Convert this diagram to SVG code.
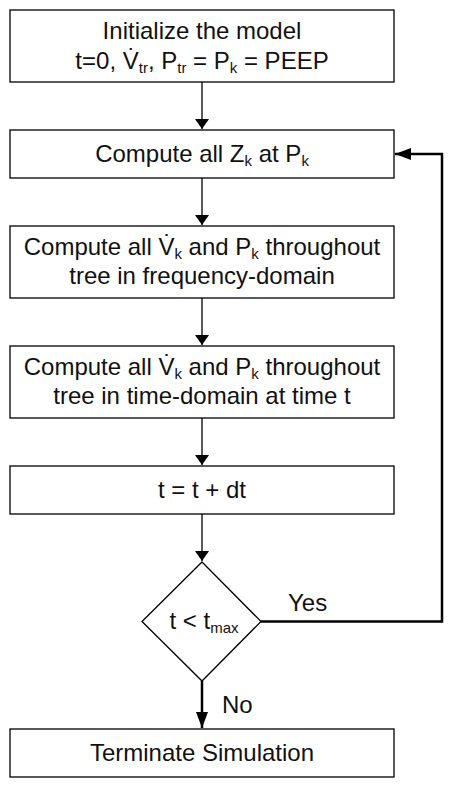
<svg xmlns="http://www.w3.org/2000/svg" width="453" height="788" viewBox="0 0 453 788">
<defs>
<style>
.box{fill:#fff;stroke:#000;stroke-width:1.3}
.t{font-family:"Liberation Sans",Arial,sans-serif;font-size:24px;fill:#111;text-anchor:middle}
.l{font-family:"Liberation Sans",Arial,sans-serif;font-size:24px;fill:#111}
.s{font-size:15px}
.c{fill:none;stroke:#000;stroke-width:1.3}
.c2{fill:none;stroke:#000;stroke-width:2.5}
</style>
<marker id="ah" viewBox="0 0 10 14" refX="10" refY="7" markerWidth="10" markerHeight="14" markerUnits="userSpaceOnUse" orient="auto">
<path d="M0,0 L10,7 L0,14 Z" fill="#000"/>
</marker>
<marker id="ah2" viewBox="0 0 16 12" refX="16" refY="6" markerWidth="16" markerHeight="12" markerUnits="userSpaceOnUse" orient="auto">
<path d="M0,0 L16,6 L0,12 Z" fill="#000"/>
</marker>
</defs>
<rect width="453" height="788" fill="#fff"/>
<g id="connectors">
<line class="c" x1="202" y1="82" x2="202" y2="129" marker-end="url(#ah)"/>
<line class="c" x1="202" y1="178" x2="202" y2="225" marker-end="url(#ah)"/>
<line class="c" x1="202" y1="298" x2="202" y2="345" marker-end="url(#ah)"/>
<line class="c" x1="202" y1="418" x2="202" y2="465" marker-end="url(#ah)"/>
<line class="c" x1="202" y1="514" x2="202" y2="561" marker-end="url(#ah)"/>
<line class="c2" x1="202" y1="681" x2="202" y2="728" marker-end="url(#ah2)"/>
<polyline class="c2" points="261,621.5 442,621.5 442,154 395,154" marker-end="url(#ah2)"/>
<text class="l" x="288" y="611">Yes</text>
<text class="l" x="222" y="713">No</text>
</g>
<g id="n1">
<rect class="box" x="10" y="10" width="384" height="72"/>
<text class="t" x="202" y="39">Initialize the model</text>
<text class="t" x="202" y="69">t=0, V̇<tspan class="s" dy="4">tr</tspan><tspan dy="-4">, P</tspan><tspan class="s" dy="4">tr</tspan><tspan dy="-4"> = P</tspan><tspan class="s" dy="4">k</tspan><tspan dy="-4"> = PEEP</tspan></text>
</g>
<g id="n2">
<rect class="box" x="10" y="130" width="384" height="48"/>
<text class="t" x="202" y="162">Compute all Z<tspan class="s" dy="4">k</tspan><tspan dy="-4"> at P</tspan><tspan class="s" dy="4">k</tspan></text>
</g>
<g id="n3">
<rect class="box" x="10" y="226" width="384" height="72"/>
<text class="t" x="202" y="255">Compute all V̇<tspan class="s" dy="4">k</tspan><tspan dy="-4"> and P</tspan><tspan class="s" dy="4">k</tspan><tspan dy="-4"> throughout</tspan></text>
<text class="t" x="202" y="284">tree in frequency-domain</text>
</g>
<g id="n4">
<rect class="box" x="10" y="346" width="384" height="72"/>
<text class="t" x="202" y="375">Compute all V̇<tspan class="s" dy="4">k</tspan><tspan dy="-4"> and P</tspan><tspan class="s" dy="4">k</tspan><tspan dy="-4"> throughout</tspan></text>
<text class="t" x="202" y="404">tree in time-domain at time t</text>
</g>
<g id="n5">
<rect class="box" x="10" y="466" width="384" height="48"/>
<text class="t" x="202" y="498">t = t + dt</text>
</g>
<g id="n6">
<polygon class="box" points="202,562 261,621.5 202,681 142,621.5"/>
<text class="t" x="204" y="629">t &lt; t<tspan class="s" dy="4">max</tspan></text>
</g>
<g id="n7">
<rect class="box" x="10" y="729" width="384" height="48"/>
<text class="t" x="202" y="761">Terminate Simulation</text>
</g>
</svg>
